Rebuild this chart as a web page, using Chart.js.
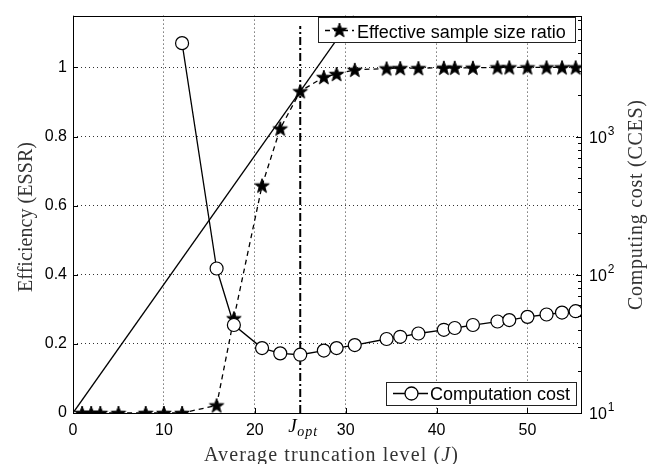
<!DOCTYPE html>
<html>
<head>
<meta charset="utf-8">
<script src="https://cdn.jsdelivr.net/npm/chart.js@4/dist/chart.umd.min.js"></script>
<style>
  html, body { margin: 0; padding: 0; background: #fff; }
  #wrap { width: 655px; height: 464px; }
</style>
</head>
<body>
<div id="wrap"><canvas id="c" width="655" height="464"></canvas></div>
<script>
// Average truncation level J of each run
const truncationLevels = [1, 2, 3, 5, 8, 10, 12, 15.8, 17.7, 20.8, 22.8, 25, 27.6, 29, 31,
  34.5, 36, 38, 40.8, 42, 44, 46.7, 48, 50, 52.1, 53.8, 55.3];
// Efficiency: effective sample size ratio (left axis)
const essrValues = [0, 0, 0, 0, 0, 0, 0, 0.022, 0.274, 0.658, 0.823, 0.931, 0.972, 0.981, 0.993,
  0.997, 0.998, 0.998, 0.999, 0.999, 0.999, 1, 1, 1, 1, 1, 1];
// Computing cost in CCES (right axis, log); runs below J = 12 are off the scale
const costValues = [null, null, null, null, null, null, 4740, 111, 43.3, 29.5, 27.0, 26.4, 28.3, 29.5, 31.0,
  34.3, 35.6, 37.6, 40.0, 41.2, 43.3, 45.9, 47.0, 49.6, 51.6, 53.3, 54.5];
// Optimal truncation level and the extent of its marker line
const J_OPT = 25;
const joptLineSpan = [0, 1.12];
// Tick values
const xTickValues = [0, 10, 20, 30, 40, 50];
const essrTickValues = [0, 0.2, 0.4, 0.6, 0.8, 1];
const costDecades = [10, 100, 1000];

const X_MAX = 56;
const ESSR_MAX = 1.15;
const COST_MIN = 10;
const COST_MAX = Math.pow(10, 3.875);

// Tangent from the origin through the optimal point
const essrAtOpt = essrValues[truncationLevels.indexOf(J_OPT)];
const tangentSlope = essrAtOpt / J_OPT;
const tangentEnd = ESSR_MAX / tangentSlope;

// Filled pentagram marker
function makeStar(R) {
  const s = Math.ceil(R * 2) + 2;
  const c = document.createElement('canvas');
  c.width = c.height = s;
  const g = c.getContext('2d');
  g.translate(s / 2, s / 2 + R * 0.08);
  g.beginPath();
  for (let i = 0; i < 10; i++) {
    const r = i % 2 ? R * 0.4 : R;
    const a = -Math.PI / 2 + i * Math.PI / 5;
    g.lineTo(r * Math.cos(a), r * Math.sin(a));
  }
  g.closePath();
  g.fillStyle = '#000';
  g.fill();
  g.strokeStyle = '#000';
  g.lineWidth = 1;
  g.stroke();
  return c;
}
const starMarker = makeStar(7.6);

const costPoints = truncationLevels
  .map((x, i) => ({ x, y: costValues[i] }))
  .filter(p => p.y !== null);
const essrPoints = truncationLevels.map((x, i) => ({ x, y: essrValues[i] }));

const SANS = '"Liberation Sans", Arial, Helvetica, sans-serif';
const SERIF = '"Liberation Serif", "Times New Roman", serif';

// Draws text stretched by letter spacing to a given width, centred on (x, y)
function drawSpaced(ctx, segments, x, y, width, rot) {
  ctx.save();
  ctx.translate(x, y);
  ctx.rotate(rot);
  ctx.textBaseline = 'alphabetic';
  ctx.textAlign = 'left';
  let natural = 0, count = 0;
  for (const s of segments) {
    ctx.font = s.font;
    ctx.letterSpacing = '0px';
    natural += ctx.measureText(s.text).width;
    count += s.text.length;
  }
  const ls = (width - natural) / Math.max(1, count - 1);
  let cx = -width / 2;
  for (const s of segments) {
    ctx.font = s.font;
    ctx.letterSpacing = '0px';
    const w = ctx.measureText(s.text).width;
    ctx.letterSpacing = ls + 'px';
    ctx.fillText(s.text, cx, 0);
    cx += w + ls * s.text.length;
  }
  ctx.restore();
}

const decorations = {
  id: 'decorations',
  afterDraw(chart) {
    const ctx = chart.ctx;
    const a = chart.chartArea;
    const xs = chart.scales.x, ys = chart.scales.y, ys2 = chart.scales.y2;
    ctx.save();
    ctx.strokeStyle = '#000';
    ctx.lineWidth = 1;

    // inward tick marks
    ctx.beginPath();
    for (const v of xTickValues) {
      const px = Math.round(xs.getPixelForValue(v)) + 0.5;
      ctx.moveTo(px, a.bottom); ctx.lineTo(px, a.bottom - 5);
    }
    for (const v of essrTickValues) {
      const py = Math.round(ys.getPixelForValue(v)) + 0.5;
      ctx.moveTo(a.left, py); ctx.lineTo(a.left + 5, py);
    }
    for (const d of costDecades) {
      for (let m = 1; m <= 9; m++) {
        const v = m * d;
        if (v > COST_MAX) break;
        const py = Math.round(ys2.getPixelForValue(v)) + 0.5;
        ctx.moveTo(a.right, py); ctx.lineTo(a.right - (m === 1 ? 6 : 4), py);
      }
    }
    ctx.stroke();

    // plot frame
    ctx.strokeRect(Math.round(a.left) + 0.5, Math.round(a.top) + 0.5,
      Math.round(a.right - a.left) - 1, Math.round(a.bottom - a.top));

    // right-axis decade labels with superscript exponents
    ctx.fillStyle = '#000';
    ctx.textAlign = 'left';
    ctx.textBaseline = 'alphabetic';
    for (const d of costDecades) {
      const py = ys2.getPixelForValue(d);
      ctx.font = '16px ' + SANS;
      ctx.fillText('10', a.right + 7, py + 6);
      const w = ctx.measureText('10').width;
      ctx.font = '12px ' + SANS;
      ctx.fillText(String(Math.round(Math.log10(d))), a.right + 8 + w, py - 2);
    }

    // legend: efficiency
    ctx.fillStyle = '#fff';
    ctx.fillRect(318, 17, 258, 26);
    ctx.strokeStyle = '#222';
    ctx.strokeRect(318.5, 17.5, 257, 25);
    ctx.strokeStyle = '#000';
    ctx.lineWidth = 1.3;
    ctx.setLineDash([5, 4]);
    ctx.beginPath(); ctx.moveTo(325, 30.5); ctx.lineTo(354, 30.5); ctx.stroke();
    ctx.setLineDash([]);
    ctx.lineWidth = 1;
    ctx.drawImage(starMarker, 339.5 - starMarker.width / 2, 30 - starMarker.height / 2);
    ctx.fillStyle = '#000';
    ctx.font = '18px ' + SANS;
    ctx.fillText('Effective sample size ratio', 357, 37.5);

    // legend: cost
    ctx.fillStyle = '#fff';
    ctx.fillRect(386, 382, 191, 24);
    ctx.strokeStyle = '#222';
    ctx.strokeRect(386.5, 382.5, 190, 23);
    ctx.strokeStyle = '#000';
    ctx.lineWidth = 1.3;
    ctx.beginPath(); ctx.moveTo(393, 393.5); ctx.lineTo(428, 393.5); ctx.stroke();
    ctx.beginPath(); ctx.arc(411.5, 393.5, 6.5, 0, Math.PI * 2);
    ctx.fillStyle = '#fff'; ctx.fill(); ctx.stroke();
    ctx.lineWidth = 1;
    ctx.fillStyle = '#000';
    ctx.font = '18px ' + SANS;
    ctx.fillText('Computation cost', 430, 399.5);

    // J_opt label under the axis
    const jx = xs.getPixelForValue(J_OPT);
    ctx.font = 'italic 19px ' + SERIF;
    ctx.fillText('J', jx - 12, 432);
    ctx.font = 'italic 14px ' + SERIF;
    ctx.letterSpacing = '1px';
    ctx.fillText('opt', jx - 3, 436);
    ctx.letterSpacing = '0px';

    // axis titles
    ctx.fillStyle = '#333';
    drawSpaced(ctx, [
      { text: 'Average truncation level (', font: '20px ' + SERIF },
      { text: 'J', font: 'italic 20px ' + SERIF },
      { text: ')', font: '20px ' + SERIF }
    ], 331, 461, 254, 0);
    drawSpaced(ctx, [{ text: 'Efficiency (ESSR)', font: '20px ' + SERIF }],
      32, 217, 150, -Math.PI / 2);
    drawSpaced(ctx, [{ text: 'Computing cost (CCES)', font: '20px ' + SERIF }],
      642, 205, 210, -Math.PI / 2);
    ctx.restore();
  }
};

new Chart(document.getElementById('c'), {
  type: 'line',
  data: {
    datasets: [
      {
        label: 'Computation cost',
        data: costPoints,
        yAxisID: 'y2',
        borderColor: '#000',
        borderWidth: 1.3,
        pointStyle: 'circle',
        pointRadius: 6.5,
        pointBackgroundColor: '#fff',
        pointBorderColor: '#000',
        pointBorderWidth: 1.2,
        order: 0
      },
      {
        label: 'Effective sample size ratio',
        data: essrPoints,
        yAxisID: 'y',
        borderColor: '#000',
        borderWidth: 1.3,
        borderDash: [5, 4],
        pointStyle: starMarker,
        order: 1
      },
      {
        label: 'tangent',
        data: [{ x: 0, y: 0 }, { x: tangentEnd, y: tangentEnd * tangentSlope }],
        yAxisID: 'y',
        borderColor: '#000',
        borderWidth: 1.3,
        pointRadius: 0,
        order: 2
      },
      {
        label: 'J_opt',
        data: [{ x: J_OPT, y: joptLineSpan[0] }, { x: J_OPT, y: joptLineSpan[1] }],
        yAxisID: 'y',
        borderColor: '#000',
        borderWidth: 2,
        borderDash: [8, 3, 2, 3],
        pointRadius: 0,
        order: 3
      }
    ]
  },
  options: {
    responsive: false,
    animation: false,
    devicePixelRatio: 1,
    layout: { padding: { top: 11, left: 0, right: 0, bottom: 0 } },
    plugins: { legend: { display: false }, tooltip: { enabled: false } },
    elements: { line: { tension: 0 } },
    scales: {
      x: {
        type: 'linear',
        min: 0,
        max: X_MAX,
        afterBuildTicks: s => { s.ticks = xTickValues.map(v => ({ value: v })); },
        afterFit: s => { s.height = 51; },
        ticks: {
          autoSkip: false, maxRotation: 0, padding: 8, color: '#000',
          font: { family: SANS, size: 16 },
          callback: v => String(v)
        },
        grid: { color: '#333', lineWidth: 1, drawTicks: false },
        border: { display: false, dash: [1, 3] }
      },
      y: {
        type: 'linear',
        position: 'left',
        min: 0,
        max: ESSR_MAX,
        afterBuildTicks: s => { s.ticks = essrTickValues.map(v => ({ value: v })); },
        afterFit: s => { s.width = 73; },
        ticks: {
          autoSkip: false, padding: 6, color: '#000',
          font: { family: SANS, size: 16 },
          callback: v => (v === 0 || v === 1) ? String(v) : v.toFixed(1)
        },
        grid: { color: '#333', lineWidth: 1, drawTicks: false },
        border: { display: false, dash: [1, 3] }
      },
      y2: {
        type: 'logarithmic',
        position: 'right',
        min: COST_MIN,
        max: COST_MAX,
        afterBuildTicks: s => { s.ticks = costDecades.map(v => ({ value: v })); },
        afterFit: s => { s.width = 73; },
        ticks: { display: false },
        grid: { drawOnChartArea: false, drawTicks: false },
        border: { display: false }
      }
    }
  },
  plugins: [decorations]
});
</script>
</body>
</html>
